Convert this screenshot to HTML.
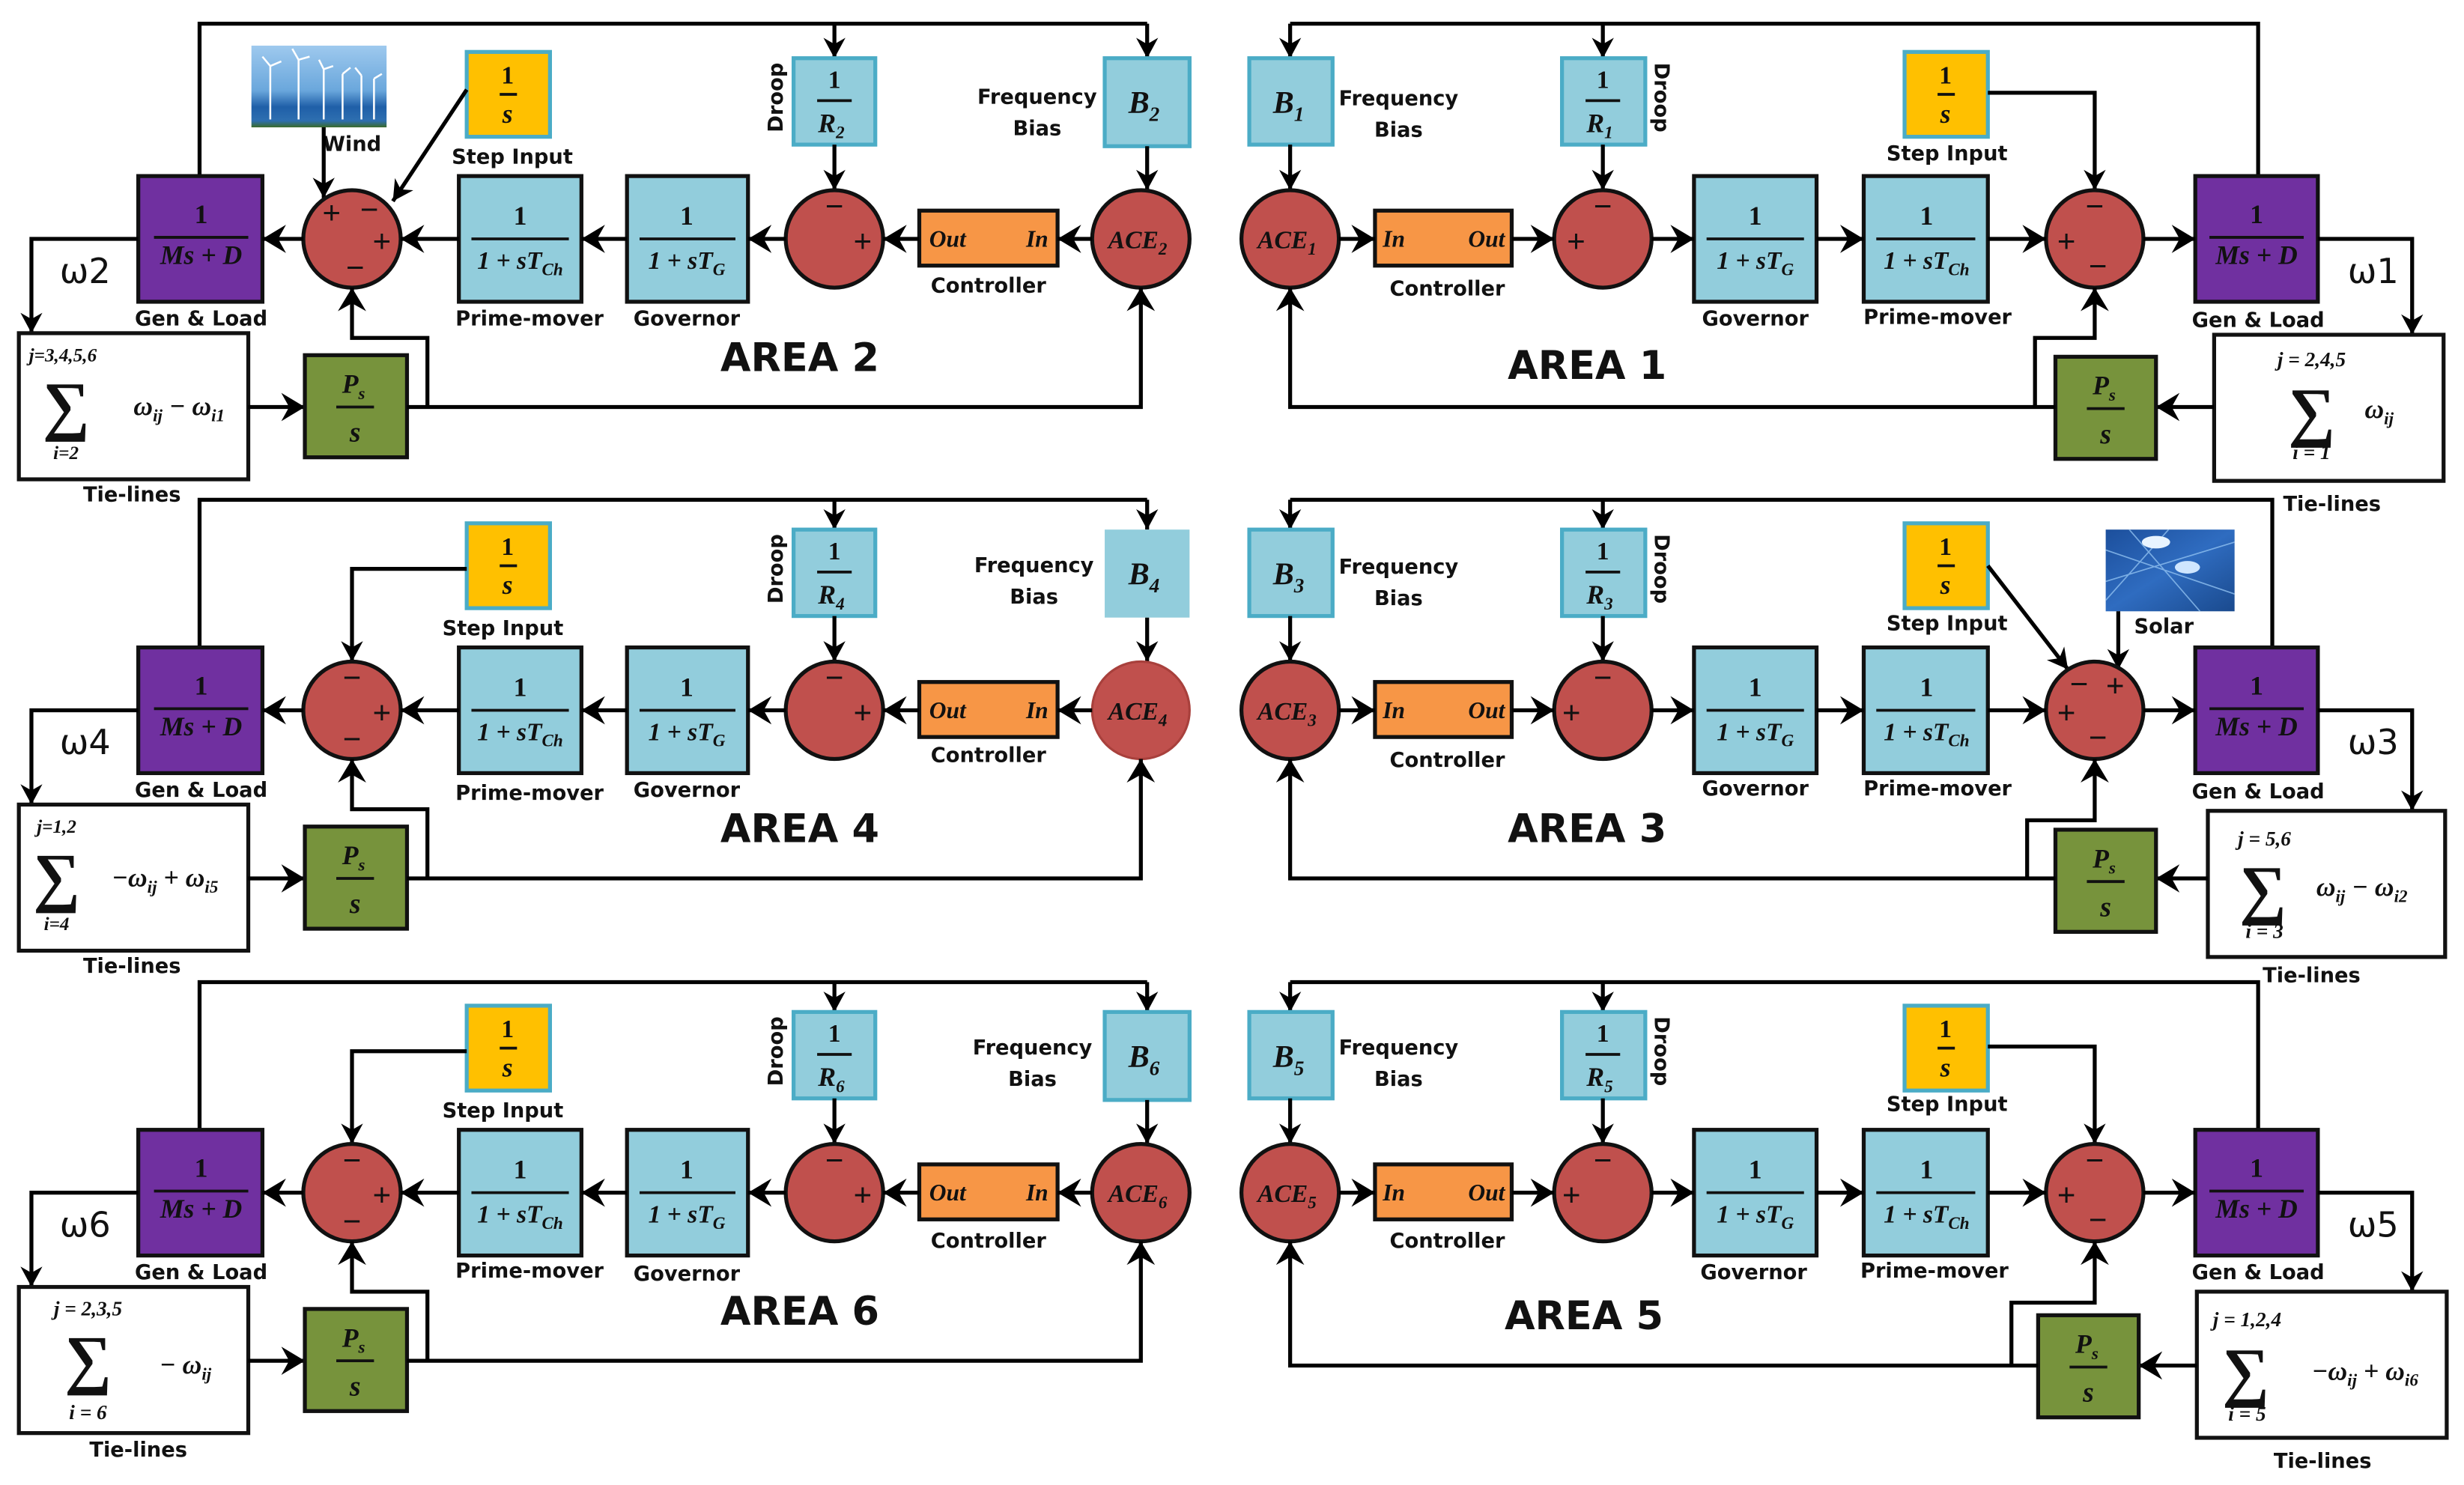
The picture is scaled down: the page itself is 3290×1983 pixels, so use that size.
<!DOCTYPE html>
<html><head><meta charset="utf-8"><style>
html,body{margin:0;padding:0;background:#fff;width:3290px;height:1983px;overflow:hidden}
svg{display:block}
.l{font-family:"DejaVu Sans","Liberation Sans",sans-serif;font-weight:bold;font-size:13px;fill:#111;text-anchor:middle}
.ar{font-family:"DejaVu Sans","Liberation Sans",sans-serif;font-weight:bold;font-size:25px;fill:#111;text-anchor:middle}
.m{font-family:"Liberation Serif",serif;font-weight:bold;font-style:italic;fill:#111;text-anchor:middle}
.n{font-family:"Liberation Serif",serif;font-weight:bold;fill:#111;text-anchor:middle}
.w{font-family:"DejaVu Sans","Liberation Sans",sans-serif;font-size:22px;fill:#111}
.ln{fill:none;stroke:#000;stroke-width:2.5}
.lna{fill:none;stroke:#000;stroke-width:2.5;marker-end:url(#a)}
.lnb{fill:none;stroke:#000;stroke-width:2.5;marker-end:url(#b)}
.pu{fill:#7030A0;stroke:#111;stroke-width:2.5}
.bl{fill:#92CDDC;stroke:#111;stroke-width:2.5}
.bl2{fill:#92CDDC;stroke:#4BACC6;stroke-width:2.5}
.ye{fill:#FFC000;stroke:#4BACC6;stroke-width:2.5}
.or{fill:#F79646;stroke:#111;stroke-width:2.5}
.gr{fill:#77933C;stroke:#111;stroke-width:2.5}
.rd{fill:#C0504D;stroke:#111;stroke-width:2.5}
.tb{fill:#fff;stroke:#111;stroke-width:2.5}
.fl{stroke:#111;stroke-width:1.8}
.sg{font-family:"Liberation Sans",sans-serif;font-size:20px;fill:#111;text-anchor:middle}
</style></head><body>
<svg width="3290" height="1983" viewBox="0 0 1568 945" xmlns="http://www.w3.org/2000/svg">
<defs>
<marker id="a" markerUnits="userSpaceOnUse" markerWidth="14" markerHeight="14" refX="13" refY="7" orient="auto"><path d="M0,0 L13,7 L0,14 L4,7 z" fill="#000"/></marker>
<marker id="b" markerUnits="userSpaceOnUse" markerWidth="16" markerHeight="18" refX="15" refY="9" orient="auto"><path d="M0,0 L15,9 L0,18 L5,9 z" fill="#000"/></marker>
<linearGradient id="sky" x1="0" y1="0" x2="0" y2="1"><stop offset="0" stop-color="#9ec9ee"/><stop offset="0.55" stop-color="#6aa7dc"/><stop offset="0.75" stop-color="#1f5fa8"/><stop offset="0.92" stop-color="#2e6fb0"/><stop offset="1" stop-color="#3a6b2a"/></linearGradient>
<linearGradient id="sol" x1="0" y1="0" x2="1" y2="1"><stop offset="0" stop-color="#1c4f9c"/><stop offset="0.5" stop-color="#2f6cc0"/><stop offset="1" stop-color="#1a4a8e"/></linearGradient>
</defs>

<!-- ===== LEFT AREAS ===== -->
<!-- AREA 2 -->
<g>
<path class="ln" d="M127,112 V15 H730"/>
<path class="lna" d="M730,15 V37"/><path class="lna" d="M531,15 V37"/>
<rect x="160" y="29" width="86" height="52" fill="url(#sky)"/>
<g stroke="#fff" stroke-width="1.2"><path d="M172,76 V42 M190,76 V38 M206,76 V44 M218,76 V47 M230,76 V48 M238,76 V50"/><path d="M172,42 l-5,-6 M172,42 l7,-3 M190,38 l-4,-7 M190,38 l7,-2 M206,44 l-3,-6 M206,44 l6,-2 M218,47 l5,-4 M230,48 l-4,-5 M238,50 l5,-3"/></g>
<text class="l" x="224" y="96">Wind</text>
<path class="lna" d="M206,81 V126"/>
<rect class="ye" x="297" y="33" width="53" height="54"/>
<text class="n" x="323" y="53" font-size="16">1</text><line class="fl" x1="318" y1="60" x2="329" y2="60"/><text class="m" x="323" y="78" font-size="17">s</text>
<text class="l" x="326" y="104">Step Input</text>
<path class="lna" d="M297,57 L250,128"/>
<rect class="bl2" x="505" y="37" width="52" height="55"/>
<text class="n" x="531" y="56" font-size="16">1</text><line class="fl" x1="520" y1="64" x2="542" y2="64"/><text class="m" x="529" y="84" font-size="17">R<tspan font-size="11" dy="4">2</tspan></text>
<text class="l" transform="translate(498,62) rotate(-90)">Droop</text>
<rect class="bl2" x="703" y="37" width="54" height="56"/>
<text class="m" x="728" y="72" font-size="20">B<tspan font-size="13" dy="5">2</tspan></text>
<text class="l" x="660" y="66">Frequency</text><text class="l" x="660" y="86">Bias</text>
<path class="lna" d="M531,92 V121"/><path class="lna" d="M730,93 V121"/>
<rect class="pu" x="88" y="112" width="79" height="80"/>
<text class="n" x="128" y="142" font-size="17">1</text><line class="fl" x1="98" y1="151" x2="158" y2="151"/><text class="m" x="128" y="168" font-size="17">Ms + D</text>
<text class="l" x="128" y="207">Gen &amp; Load</text>
<ellipse class="rd" cx="224" cy="152" rx="31" ry="31"/>
<text class="sg" x="211" y="142">+</text><text class="sg" x="235" y="140">−</text><text class="sg" x="243" y="160">+</text><text class="sg" x="226" y="177">−</text>
<rect class="bl" x="292" y="112" width="78" height="80"/>
<text class="n" x="331" y="143" font-size="17">1</text><line class="fl" x1="300" y1="152" x2="362" y2="152"/><text class="m" x="331" y="171" font-size="16">1 + sT<tspan font-size="11" dy="4">Ch</tspan></text>
<text class="l" x="337" y="207">Prime-mover</text>
<rect class="bl" x="399" y="112" width="77" height="80"/>
<text class="n" x="437" y="143" font-size="17">1</text><line class="fl" x1="407" y1="152" x2="468" y2="152"/><text class="m" x="437" y="171" font-size="16">1 + sT<tspan font-size="11" dy="4">G</tspan></text>
<text class="l" x="437" y="207">Governor</text>
<ellipse class="rd" cx="531" cy="152" rx="31" ry="31"/>
<text class="sg" x="531" y="138">−</text><text class="sg" x="549" y="160">+</text>
<rect class="or" x="585" y="134" width="88" height="35"/>
<text class="m" x="603" y="157" font-size="15">Out</text><text class="m" x="660" y="157" font-size="15">In</text>
<text class="l" x="629" y="186">Controller</text>
<ellipse class="rd" cx="726" cy="152" rx="31" ry="31"/>
<text class="m" x="724" y="158" font-size="16">ACE<tspan font-size="11" dy="4">2</tspan></text>
<path class="lnb" d="M695,152 H673"/><path class="lnb" d="M585,152 H562"/><path class="lnb" d="M500,152 H476"/><path class="lnb" d="M399,152 H370"/><path class="lnb" d="M292,152 H255"/><path class="lnb" d="M193,152 H167"/>
<path class="lna" d="M88,152 H20 V212"/>
<text class="w" x="38" y="180">ω2</text>
<rect class="tb" x="12" y="212" width="146" height="93"/>
<text class="m" x="40" y="230" font-size="12">j=3,4,5,6</text>
<text class="n" x="42" y="272" font-size="42">∑</text>
<text class="m" x="42" y="292" font-size="12">i=2</text>
<text class="m" x="114" y="264" font-size="17">ω<tspan font-size="11" dy="4">ij</tspan><tspan dy="-4"> − ω</tspan><tspan font-size="11" dy="4">i1</tspan></text>
<text class="l" x="84" y="319">Tie-lines</text>
<path class="lnb" d="M158,259 H194"/>
<rect class="gr" x="194" y="226" width="65" height="65"/>
<text class="m" x="225" y="250" font-size="17">P<tspan font-size="11" dy="4">s</tspan></text><line class="fl" x1="214" y1="259" x2="238" y2="259"/><text class="m" x="226" y="281" font-size="18">s</text>
<path class="lnb" d="M259,259 H726 V183"/>
<path class="lnb" d="M272,259 V215 H224 V183"/>
<text class="ar" x="509" y="236">AREA 2</text>
</g>

<!-- AREA 4 -->
<g transform="translate(0,300)">
<path class="ln" d="M127,112 V18 H730"/>
<path class="lna" d="M730,18 V37"/><path class="lna" d="M531,18 V37"/>
<rect class="ye" x="297" y="33" width="53" height="54"/>
<text class="n" x="323" y="53" font-size="16">1</text><line class="fl" x1="318" y1="60" x2="329" y2="60"/><text class="m" x="323" y="78" font-size="17">s</text>
<text class="l" x="320" y="104">Step Input</text>
<path class="lna" d="M297,62 H224 V121"/>
<rect class="bl2" x="505" y="37" width="52" height="55"/>
<text class="n" x="531" y="56" font-size="16">1</text><line class="fl" x1="520" y1="64" x2="542" y2="64"/><text class="m" x="529" y="84" font-size="17">R<tspan font-size="11" dy="4">4</tspan></text>
<text class="l" transform="translate(498,62) rotate(-90)">Droop</text>
<rect x="703" y="37" width="54" height="56" fill="#92CDDC"/>
<text class="m" x="728" y="72" font-size="20">B<tspan font-size="13" dy="5">4</tspan></text>
<text class="l" x="658" y="64">Frequency</text><text class="l" x="658" y="84">Bias</text>
<path class="lna" d="M531,92 V121"/><path class="lna" d="M730,93 V121"/>
<rect class="pu" x="88" y="112" width="79" height="80"/>
<text class="n" x="128" y="142" font-size="17">1</text><line class="fl" x1="98" y1="151" x2="158" y2="151"/><text class="m" x="128" y="168" font-size="17">Ms + D</text>
<text class="l" x="128" y="207">Gen &amp; Load</text>
<ellipse class="rd" cx="224" cy="152" rx="31" ry="31"/>
<text class="sg" x="224" y="138">−</text><text class="sg" x="243" y="160">+</text><text class="sg" x="224" y="177">−</text>
<rect class="bl" x="292" y="112" width="78" height="80"/>
<text class="n" x="331" y="143" font-size="17">1</text><line class="fl" x1="300" y1="152" x2="362" y2="152"/><text class="m" x="331" y="171" font-size="16">1 + sT<tspan font-size="11" dy="4">Ch</tspan></text>
<text class="l" x="337" y="209">Prime-mover</text>
<rect class="bl" x="399" y="112" width="77" height="80"/>
<text class="n" x="437" y="143" font-size="17">1</text><line class="fl" x1="407" y1="152" x2="468" y2="152"/><text class="m" x="437" y="171" font-size="16">1 + sT<tspan font-size="11" dy="4">G</tspan></text>
<text class="l" x="437" y="207">Governor</text>
<ellipse class="rd" cx="531" cy="152" rx="31" ry="31"/>
<text class="sg" x="531" y="138">−</text><text class="sg" x="549" y="160">+</text>
<rect class="or" x="585" y="134" width="88" height="35"/>
<text class="m" x="603" y="157" font-size="15">Out</text><text class="m" x="660" y="157" font-size="15">In</text>
<text class="l" x="629" y="185">Controller</text>
<ellipse cx="726" cy="152" rx="31" ry="31" fill="#C0504D" stroke="#a8403c" stroke-width="1.5"/>
<text class="m" x="724" y="158" font-size="16">ACE<tspan font-size="11" dy="4">4</tspan></text>
<path class="lnb" d="M695,152 H673"/><path class="lnb" d="M585,152 H562"/><path class="lnb" d="M500,152 H476"/><path class="lnb" d="M399,152 H370"/><path class="lnb" d="M292,152 H255"/><path class="lnb" d="M193,152 H167"/>
<path class="lna" d="M88,152 H20 V212"/>
<text class="w" x="38" y="180">ω4</text>
<rect class="tb" x="12" y="212" width="146" height="93"/>
<text class="m" x="36" y="230" font-size="12">j=1,2</text>
<text class="n" x="36" y="272" font-size="42">∑</text>
<text class="m" x="36" y="292" font-size="12">i=4</text>
<text class="m" x="105" y="264" font-size="17">−ω<tspan font-size="11" dy="4">ij</tspan><tspan dy="-4"> + ω</tspan><tspan font-size="11" dy="4">i5</tspan></text>
<text class="l" x="84" y="319">Tie-lines</text>
<path class="lnb" d="M158,259 H194"/>
<rect class="gr" x="194" y="226" width="65" height="65"/>
<text class="m" x="225" y="250" font-size="17">P<tspan font-size="11" dy="4">s</tspan></text><line class="fl" x1="214" y1="259" x2="238" y2="259"/><text class="m" x="226" y="281" font-size="18">s</text>
<path class="lnb" d="M259,259 H726 V183"/>
<path class="lnb" d="M272,259 V215 H224 V183"/>
<text class="ar" x="509" y="236">AREA 4</text>
</g>

<!-- AREA 6 -->
<g transform="translate(0,607)">
<path class="ln" d="M127,112 V18 H730"/>
<path class="lna" d="M730,18 V37"/><path class="lna" d="M531,18 V37"/>
<rect class="ye" x="297" y="33" width="53" height="54"/>
<text class="n" x="323" y="53" font-size="16">1</text><line class="fl" x1="318" y1="60" x2="329" y2="60"/><text class="m" x="323" y="78" font-size="17">s</text>
<text class="l" x="320" y="104">Step Input</text>
<path class="lna" d="M297,62 H224 V121"/>
<rect class="bl2" x="505" y="37" width="52" height="55"/>
<text class="n" x="531" y="56" font-size="16">1</text><line class="fl" x1="520" y1="64" x2="542" y2="64"/><text class="m" x="529" y="84" font-size="17">R<tspan font-size="11" dy="4">6</tspan></text>
<text class="l" transform="translate(498,62) rotate(-90)">Droop</text>
<rect class="bl2" x="703" y="37" width="54" height="56"/>
<text class="m" x="728" y="72" font-size="20">B<tspan font-size="13" dy="5">6</tspan></text>
<text class="l" x="657" y="64">Frequency</text><text class="l" x="657" y="84">Bias</text>
<path class="lna" d="M531,92 V121"/><path class="lna" d="M730,93 V121"/>
<rect class="pu" x="88" y="112" width="79" height="80"/>
<text class="n" x="128" y="142" font-size="17">1</text><line class="fl" x1="98" y1="151" x2="158" y2="151"/><text class="m" x="128" y="168" font-size="17">Ms + D</text>
<text class="l" x="128" y="207">Gen &amp; Load</text>
<ellipse class="rd" cx="224" cy="152" rx="31" ry="31"/>
<text class="sg" x="224" y="138">−</text><text class="sg" x="243" y="160">+</text><text class="sg" x="224" y="177">−</text>
<rect class="bl" x="292" y="112" width="78" height="80"/>
<text class="n" x="331" y="143" font-size="17">1</text><line class="fl" x1="300" y1="152" x2="362" y2="152"/><text class="m" x="331" y="171" font-size="16">1 + sT<tspan font-size="11" dy="4">Ch</tspan></text>
<text class="l" x="337" y="206">Prime-mover</text>
<rect class="bl" x="399" y="112" width="77" height="80"/>
<text class="n" x="437" y="143" font-size="17">1</text><line class="fl" x1="407" y1="152" x2="468" y2="152"/><text class="m" x="437" y="171" font-size="16">1 + sT<tspan font-size="11" dy="4">G</tspan></text>
<text class="l" x="437" y="208">Governor</text>
<ellipse class="rd" cx="531" cy="152" rx="31" ry="31"/>
<text class="sg" x="531" y="138">−</text><text class="sg" x="549" y="160">+</text>
<rect class="or" x="585" y="134" width="88" height="35"/>
<text class="m" x="603" y="157" font-size="15">Out</text><text class="m" x="660" y="157" font-size="15">In</text>
<text class="l" x="629" y="187">Controller</text>
<ellipse class="rd" cx="726" cy="152" rx="31" ry="31"/>
<text class="m" x="724" y="158" font-size="16">ACE<tspan font-size="11" dy="4">6</tspan></text>
<path class="lnb" d="M695,152 H673"/><path class="lnb" d="M585,152 H562"/><path class="lnb" d="M500,152 H476"/><path class="lnb" d="M399,152 H370"/><path class="lnb" d="M292,152 H255"/><path class="lnb" d="M193,152 H167"/>
<path class="lna" d="M88,152 H20 V212"/>
<text class="w" x="38" y="180">ω6</text>
<rect class="tb" x="12" y="212" width="146" height="93"/>
<text class="m" x="56" y="230" font-size="13">j = 2,3,5</text>
<text class="n" x="56" y="272" font-size="42">∑</text>
<text class="m" x="56" y="296" font-size="13">i = 6</text>
<text class="m" x="118" y="267" font-size="17">− ω<tspan font-size="11" dy="4">ij</tspan></text>
<text class="l" x="88" y="320">Tie-lines</text>
<path class="lnb" d="M158,259 H194"/>
<rect class="gr" x="194" y="226" width="65" height="65"/>
<text class="m" x="225" y="250" font-size="17">P<tspan font-size="11" dy="4">s</tspan></text><line class="fl" x1="214" y1="259" x2="238" y2="259"/><text class="m" x="226" y="281" font-size="18">s</text>
<path class="lnb" d="M259,259 H726 V183"/>
<path class="lnb" d="M272,259 V215 H224 V183"/>
<text class="ar" x="509" y="236">AREA 6</text>
</g>

<!-- ===== RIGHT AREAS ===== -->
<!-- AREA 1 -->
<g>
<path class="ln" d="M1437,112 V15 H821"/>
<path class="lna" d="M821,15 V37"/><path class="lna" d="M1020,15 V37"/>
<rect class="bl2" x="795" y="37" width="53" height="55"/>
<text class="m" x="820" y="72" font-size="20">B<tspan font-size="13" dy="5">1</tspan></text>
<text class="l" x="890" y="67">Frequency</text><text class="l" x="890" y="87">Bias</text>
<rect class="bl2" x="994" y="37" width="53" height="55"/>
<text class="n" x="1020" y="56" font-size="16">1</text><line class="fl" x1="1009" y1="64" x2="1031" y2="64"/><text class="m" x="1018" y="84" font-size="17">R<tspan font-size="11" dy="4">1</tspan></text>
<text class="l" transform="translate(1053,62) rotate(90)">Droop</text>
<rect class="ye" x="1212" y="33" width="53" height="54"/>
<text class="n" x="1238" y="53" font-size="16">1</text><line class="fl" x1="1233" y1="60" x2="1244" y2="60"/><text class="m" x="1238" y="78" font-size="17">s</text>
<text class="l" x="1239" y="102">Step Input</text>
<path class="lna" d="M1265,59 H1333 V121"/>
<path class="lna" d="M821,92 V121"/><path class="lna" d="M1020,92 V121"/>
<ellipse class="rd" cx="821" cy="152" rx="31" ry="31"/>
<text class="m" x="819" y="158" font-size="16">ACE<tspan font-size="11" dy="4">1</tspan></text>
<rect class="or" x="875" y="134" width="87" height="35"/>
<text class="m" x="887" y="157" font-size="15">In</text><text class="m" x="946" y="157" font-size="15">Out</text>
<text class="l" x="921" y="188">Controller</text>
<ellipse class="rd" cx="1020" cy="152" rx="31" ry="31"/>
<text class="sg" x="1020" y="138">−</text><text class="sg" x="1003" y="160">+</text>
<rect class="bl" x="1078" y="112" width="78" height="80"/>
<text class="n" x="1117" y="143" font-size="17">1</text><line class="fl" x1="1086" y1="152" x2="1148" y2="152"/><text class="m" x="1117" y="171" font-size="16">1 + sT<tspan font-size="11" dy="4">G</tspan></text>
<text class="l" x="1117" y="207">Governor</text>
<rect class="bl" x="1186" y="112" width="79" height="80"/>
<text class="n" x="1226" y="143" font-size="17">1</text><line class="fl" x1="1194" y1="152" x2="1257" y2="152"/><text class="m" x="1226" y="171" font-size="16">1 + sT<tspan font-size="11" dy="4">Ch</tspan></text>
<text class="l" x="1233" y="206">Prime-mover</text>
<ellipse class="rd" cx="1333" cy="152" rx="31" ry="31"/>
<text class="sg" x="1333" y="138">−</text><text class="sg" x="1315" y="160">+</text><text class="sg" x="1335" y="176">−</text>
<rect class="pu" x="1397" y="112" width="78" height="80"/>
<text class="n" x="1436" y="142" font-size="17">1</text><line class="fl" x1="1406" y1="151" x2="1466" y2="151"/><text class="m" x="1436" y="168" font-size="17">Ms + D</text>
<text class="l" x="1437" y="208">Gen &amp; Load</text>
<path class="lnb" d="M852,152 H875"/><path class="lnb" d="M962,152 H989"/><path class="lnb" d="M1051,152 H1078"/><path class="lnb" d="M1156,152 H1186"/><path class="lnb" d="M1265,152 H1302"/><path class="lnb" d="M1364,152 H1397"/>
<path class="lna" d="M1475,152 H1535 V213"/>
<text class="w" x="1494" y="180">ω1</text>
<rect class="tb" x="1409" y="213" width="146" height="93"/>
<text class="m" x="1471" y="233" font-size="13">j = 2,4,5</text>
<text class="n" x="1471" y="276" font-size="42">∑</text>
<text class="m" x="1471" y="292" font-size="13">i = 1</text>
<text class="m" x="1514" y="266" font-size="17">ω<tspan font-size="11" dy="4">ij</tspan></text>
<text class="l" x="1484" y="325">Tie-lines</text>
<path class="lnb" d="M1409,259 H1372"/>
<rect class="gr" x="1308" y="227" width="64" height="65"/>
<text class="m" x="1339" y="251" font-size="17">P<tspan font-size="11" dy="4">s</tspan></text><line class="fl" x1="1328" y1="260" x2="1352" y2="260"/><text class="m" x="1340" y="282" font-size="18">s</text>
<path class="lnb" d="M1308,259 H821 V183"/>
<path class="lnb" d="M1295,259 V215 H1333 V183"/>
<text class="ar" x="1010" y="241">AREA 1</text>
</g>

<!-- AREA 3 -->
<g transform="translate(0,300)">
<path class="ln" d="M1446,112 V18 H821"/>
<path class="lna" d="M821,18 V37"/><path class="lna" d="M1020,18 V37"/>
<rect class="bl2" x="795" y="37" width="53" height="55"/>
<text class="m" x="820" y="72" font-size="20">B<tspan font-size="13" dy="5">3</tspan></text>
<text class="l" x="890" y="65">Frequency</text><text class="l" x="890" y="85">Bias</text>
<rect class="bl2" x="994" y="37" width="53" height="55"/>
<text class="n" x="1020" y="56" font-size="16">1</text><line class="fl" x1="1009" y1="64" x2="1031" y2="64"/><text class="m" x="1018" y="84" font-size="17">R<tspan font-size="11" dy="4">3</tspan></text>
<text class="l" transform="translate(1053,62) rotate(90)">Droop</text>
<rect class="ye" x="1212" y="33" width="53" height="54"/>
<text class="n" x="1238" y="53" font-size="16">1</text><line class="fl" x1="1233" y1="60" x2="1244" y2="60"/><text class="m" x="1238" y="78" font-size="17">s</text>
<text class="l" x="1239" y="101">Step Input</text>
<path class="lna" d="M1265,60 L1316,126"/>
<rect x="1340" y="37" width="82" height="52" fill="url(#sol)"/>
<g stroke="#8fc0f0" stroke-width="0.8" opacity="0.8"><path d="M1340,50 L1422,78 M1340,70 L1422,45 M1355,37 L1400,89 M1340,82 L1380,37"/></g>
<ellipse cx="1372" cy="45" rx="9" ry="4" fill="#e8f4ff"/><ellipse cx="1392" cy="61" rx="8" ry="4" fill="#cfe6ff"/>
<text class="l" x="1377" y="103">Solar</text>
<path class="lna" d="M1348,89 V126"/>
<path class="lna" d="M821,92 V121"/><path class="lna" d="M1020,92 V121"/>
<ellipse class="rd" cx="821" cy="152" rx="31" ry="31"/>
<text class="m" x="819" y="158" font-size="16">ACE<tspan font-size="11" dy="4">3</tspan></text>
<rect class="or" x="875" y="134" width="87" height="35"/>
<text class="m" x="887" y="157" font-size="15">In</text><text class="m" x="946" y="157" font-size="15">Out</text>
<text class="l" x="921" y="188">Controller</text>
<ellipse class="rd" cx="1020" cy="152" rx="31" ry="31"/>
<text class="sg" x="1020" y="138">−</text><text class="sg" x="1000" y="160">+</text>
<rect class="bl" x="1078" y="112" width="78" height="80"/>
<text class="n" x="1117" y="143" font-size="17">1</text><line class="fl" x1="1086" y1="152" x2="1148" y2="152"/><text class="m" x="1117" y="171" font-size="16">1 + sT<tspan font-size="11" dy="4">G</tspan></text>
<text class="l" x="1117" y="206">Governor</text>
<rect class="bl" x="1186" y="112" width="79" height="80"/>
<text class="n" x="1226" y="143" font-size="17">1</text><line class="fl" x1="1194" y1="152" x2="1257" y2="152"/><text class="m" x="1226" y="171" font-size="16">1 + sT<tspan font-size="11" dy="4">Ch</tspan></text>
<text class="l" x="1233" y="206">Prime-mover</text>
<ellipse class="rd" cx="1333" cy="152" rx="31" ry="31"/>
<text class="sg" x="1323" y="142">−</text><text class="sg" x="1346" y="143">+</text><text class="sg" x="1315" y="160">+</text><text class="sg" x="1335" y="176">−</text>
<rect class="pu" x="1397" y="112" width="78" height="80"/>
<text class="n" x="1436" y="142" font-size="17">1</text><line class="fl" x1="1406" y1="151" x2="1466" y2="151"/><text class="m" x="1436" y="168" font-size="17">Ms + D</text>
<text class="l" x="1437" y="208">Gen &amp; Load</text>
<path class="lnb" d="M852,152 H875"/><path class="lnb" d="M962,152 H989"/><path class="lnb" d="M1051,152 H1078"/><path class="lnb" d="M1156,152 H1186"/><path class="lnb" d="M1265,152 H1302"/><path class="lnb" d="M1364,152 H1397"/>
<path class="lna" d="M1475,152 H1535 V216"/>
<text class="w" x="1494" y="180">ω3</text>
<rect class="tb" x="1405" y="216" width="151" height="93"/>
<text class="m" x="1441" y="238" font-size="13">j = 5,6</text>
<text class="n" x="1440" y="280" font-size="42">∑</text>
<text class="m" x="1441" y="297" font-size="13">i = 3</text>
<text class="m" x="1503" y="270" font-size="17">ω<tspan font-size="11" dy="4">ij</tspan><tspan dy="-4"> − ω</tspan><tspan font-size="11" dy="4">i2</tspan></text>
<text class="l" x="1471" y="325">Tie-lines</text>
<path class="lnb" d="M1405,259 H1372"/>
<rect class="gr" x="1308" y="228" width="64" height="65"/>
<text class="m" x="1339" y="252" font-size="17">P<tspan font-size="11" dy="4">s</tspan></text><line class="fl" x1="1328" y1="261" x2="1352" y2="261"/><text class="m" x="1340" y="283" font-size="18">s</text>
<path class="lnb" d="M1308,259 H821 V183"/>
<path class="lnb" d="M1290,259 V222 H1333 V183"/>
<text class="ar" x="1010" y="236">AREA 3</text>
</g>

<!-- AREA 5 -->
<g transform="translate(0,607)">
<path class="ln" d="M1437,112 V18 H821"/>
<path class="lna" d="M821,18 V37"/><path class="lna" d="M1020,18 V37"/>
<rect class="bl2" x="795" y="37" width="53" height="55"/>
<text class="m" x="820" y="72" font-size="20">B<tspan font-size="13" dy="5">5</tspan></text>
<text class="l" x="890" y="64">Frequency</text><text class="l" x="890" y="84">Bias</text>
<rect class="bl2" x="994" y="37" width="53" height="55"/>
<text class="n" x="1020" y="56" font-size="16">1</text><line class="fl" x1="1009" y1="64" x2="1031" y2="64"/><text class="m" x="1018" y="84" font-size="17">R<tspan font-size="11" dy="4">5</tspan></text>
<text class="l" transform="translate(1053,62) rotate(90)">Droop</text>
<rect class="ye" x="1212" y="33" width="53" height="54"/>
<text class="n" x="1238" y="53" font-size="16">1</text><line class="fl" x1="1233" y1="60" x2="1244" y2="60"/><text class="m" x="1238" y="78" font-size="17">s</text>
<text class="l" x="1239" y="100">Step Input</text>
<path class="lna" d="M1265,59 H1333 V121"/>
<path class="lna" d="M821,92 V121"/><path class="lna" d="M1020,92 V121"/>
<ellipse class="rd" cx="821" cy="152" rx="31" ry="31"/>
<text class="m" x="819" y="158" font-size="16">ACE<tspan font-size="11" dy="4">5</tspan></text>
<rect class="or" x="875" y="134" width="87" height="35"/>
<text class="m" x="887" y="157" font-size="15">In</text><text class="m" x="946" y="157" font-size="15">Out</text>
<text class="l" x="921" y="187">Controller</text>
<ellipse class="rd" cx="1020" cy="152" rx="31" ry="31"/>
<text class="sg" x="1020" y="138">−</text><text class="sg" x="1000" y="160">+</text>
<rect class="bl" x="1078" y="112" width="78" height="80"/>
<text class="n" x="1117" y="143" font-size="17">1</text><line class="fl" x1="1086" y1="152" x2="1148" y2="152"/><text class="m" x="1117" y="171" font-size="16">1 + sT<tspan font-size="11" dy="4">G</tspan></text>
<text class="l" x="1116" y="207">Governor</text>
<rect class="bl" x="1186" y="112" width="79" height="80"/>
<text class="n" x="1226" y="143" font-size="17">1</text><line class="fl" x1="1194" y1="152" x2="1257" y2="152"/><text class="m" x="1226" y="171" font-size="16">1 + sT<tspan font-size="11" dy="4">Ch</tspan></text>
<text class="l" x="1231" y="206">Prime-mover</text>
<ellipse class="rd" cx="1333" cy="152" rx="31" ry="31"/>
<text class="sg" x="1333" y="138">−</text><text class="sg" x="1315" y="160">+</text><text class="sg" x="1335" y="176">−</text>
<rect class="pu" x="1397" y="112" width="78" height="80"/>
<text class="n" x="1436" y="142" font-size="17">1</text><line class="fl" x1="1406" y1="151" x2="1466" y2="151"/><text class="m" x="1436" y="168" font-size="17">Ms + D</text>
<text class="l" x="1437" y="207">Gen &amp; Load</text>
<path class="lnb" d="M852,152 H875"/><path class="lnb" d="M962,152 H989"/><path class="lnb" d="M1051,152 H1078"/><path class="lnb" d="M1156,152 H1186"/><path class="lnb" d="M1265,152 H1302"/><path class="lnb" d="M1364,152 H1397"/>
<path class="lna" d="M1475,152 H1535 V215"/>
<text class="w" x="1494" y="180">ω5</text>
<rect class="tb" x="1398" y="215" width="159" height="93"/>
<text class="m" x="1430" y="237" font-size="13">j = 1,2,4</text>
<text class="n" x="1429" y="280" font-size="42">∑</text>
<text class="m" x="1430" y="297" font-size="13">i = 5</text>
<text class="m" x="1505" y="271" font-size="17">−ω<tspan font-size="11" dy="4">ij</tspan><tspan dy="-4"> + ω</tspan><tspan font-size="11" dy="4">i6</tspan></text>
<text class="l" x="1478" y="327">Tie-lines</text>
<path class="lnb" d="M1398,262 H1361"/>
<rect class="gr" x="1297" y="230" width="64" height="65"/>
<text class="m" x="1328" y="254" font-size="17">P<tspan font-size="11" dy="4">s</tspan></text><line class="fl" x1="1317" y1="263" x2="1341" y2="263"/><text class="m" x="1329" y="285" font-size="18">s</text>
<path class="lnb" d="M1297,262 H821 V183"/>
<path class="lnb" d="M1280,262 V222 H1333 V183"/>
<text class="ar" x="1008" y="239">AREA 5</text>
</g>
</svg>
</body></html>
